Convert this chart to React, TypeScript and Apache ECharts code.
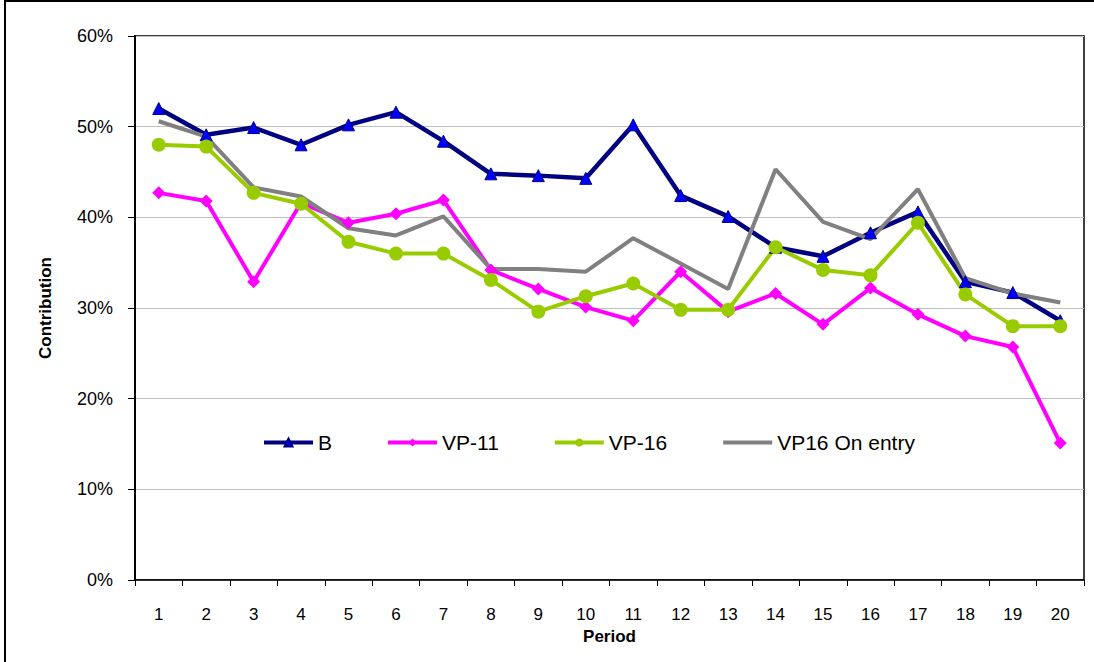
import React, { useEffect, useRef } from "react";
import * as echarts from "echarts";

const periods = ["1","2","3","4","5","6","7","8","9","10","11","12","13","14","15","16","17","18","19","20"];
const seriesB = [52.0, 49.1, 49.9, 48.0, 50.2, 51.6, 48.4, 44.8, 44.6, 44.3, 50.2, 42.4, 40.1, 36.7, 35.7, 38.3, 40.6, 32.9, 31.7, 28.6];
const seriesVP11 = [42.7, 41.8, 32.9, 41.6, 39.4, 40.4, 41.9, 34.2, 32.1, 30.1, 28.6, 34.0, 29.6, 31.6, 28.2, 32.2, 29.3, 26.9, 25.7, 15.1];
const seriesVP16 = [48.0, 47.8, 42.7, 41.5, 37.3, 36.0, 36.0, 33.1, 29.6, 31.3, 32.7, 29.8, 29.8, 36.7, 34.2, 33.6, 39.4, 31.5, 28.0, 28.0];
const seriesVP16Entry = [50.6, 48.9, 43.3, 42.3, 38.8, 38.0, 40.1, 34.3, 34.3, 34.0, 37.7, 34.9, 32.1, 45.3, 39.5, 37.6, 43.1, 33.3, 31.6, 30.6];
const yTicks = [0, 10, 20, 30, 40, 50, 60];

const FONT = "'Liberation Sans', Arial, sans-serif";

export default function App() {
  const ref = useRef<HTMLDivElement>(null);
  useEffect(() => {
    if (!ref.current) return;
    const chart = echarts.init(ref.current, undefined, { renderer: "svg" });
    chart.setOption({
      animation: false,
      backgroundColor: "#fff",
      textStyle: { fontFamily: FONT },
      graphic: [
        {
          type: "rect",
          shape: { x: 5, y: 1, width: 1200, height: 800 },
          style: { fill: "none", stroke: "#000", lineWidth: 2 },
          silent: true,
        },
      ],
      grid: {
        left: 135,
        top: 36,
        right: 10,
        bottom: 82,
        show: true,
        borderColor: "#000",
        borderWidth: 1.5,
        backgroundColor: "transparent",
      },
      legend: {
        left: 262,
        top: 432,
        padding: 0,
        itemWidth: 49,
        itemHeight: 10,
        itemGap: 54,
        lineStyle: { width: 4 },
        textStyle: { fontFamily: FONT, fontSize: 21, color: "#000" },
        data: [
          "B",
          "VP-11",
          "VP-16",
          { name: "VP16 On entry", itemStyle: { opacity: 0 } },
        ],
      },
      xAxis: {
        type: "category",
        data: periods,
        boundaryGap: true,
        name: "Period",
        nameLocation: "middle",
        nameGap: 48,
        nameTextStyle: { fontFamily: FONT, fontSize: 17, fontWeight: "bold", color: "#000" },
        axisLine: { show: true, lineStyle: { color: "#000", width: 1.5 } },
        axisTick: { show: true, inside: false, length: 6, lineStyle: { color: "#000", width: 1 } },
        axisLabel: { fontFamily: FONT, fontSize: 17, color: "#000", margin: 26 },
        splitLine: { show: false },
      },
      yAxis: {
        type: "value",
        min: yTicks[0],
        max: yTicks[yTicks.length - 1],
        interval: 10,
        name: "Contribution",
        nameLocation: "middle",
        nameGap: 81,
        nameRotate: 90,
        nameTextStyle: { fontFamily: FONT, fontSize: 17, fontWeight: "bold", color: "#000" },
        axisLine: { show: true, lineStyle: { color: "#000", width: 2 } },
        axisTick: { show: true, inside: false, length: 7, lineStyle: { color: "#000", width: 1 } },
        axisLabel: {
          fontFamily: FONT,
          fontSize: 18,
          color: "#000",
          margin: 22,
          formatter: (v: number) => `${Math.round(v)}%`,
        },
        splitLine: { show: true, lineStyle: { color: "#C0C0C0", width: 1 } },
      },
      series: [
        {
          name: "B",
          type: "line",
          data: seriesB,
          symbol: "triangle",
          symbolSize: 12,
          lineStyle: { color: "#000080", width: 4.5 },
          itemStyle: { color: "#0000FF", borderColor: "#000080", borderWidth: 1 },
        },
        {
          name: "VP-11",
          type: "line",
          data: seriesVP11,
          symbol: "diamond",
          symbolSize: 13,
          lineStyle: { color: "#FF00FF", width: 4 },
          itemStyle: { color: "#FF00FF", borderColor: "#FF00FF", borderWidth: 0 },
        },
        {
          name: "VP-16",
          type: "line",
          data: seriesVP16,
          symbol: "circle",
          symbolSize: 14,
          lineStyle: { color: "#99CC00", width: 4 },
          itemStyle: { color: "#99CC00", borderColor: "#99CC00", borderWidth: 0 },
        },
        {
          name: "VP16 On entry",
          type: "line",
          data: seriesVP16Entry,
          symbol: "none",
          lineStyle: { color: "#808080", width: 4 },
          itemStyle: { color: "#808080" },
        },
      ],
    });
    return () => chart.dispose();
  }, []);
  return (
    <div
      ref={ref}
      style={{ position: "fixed", left: 0, top: 0, width: 1094, height: 662 }}
    />
  );
}
